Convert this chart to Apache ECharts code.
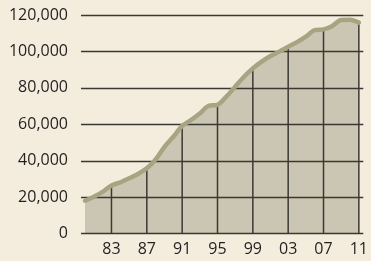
<!DOCTYPE html>
<html lang="en">
<head>
    <meta charset="UTF-8">
    <title>Chart</title>
    <style>
        html, body { margin: 0; padding: 0; background: #f4ecdd; }
    </style>
</head>
<body>
<script src="https://cdn.jsdelivr.net/npm/echarts@6/dist/echarts.min.js"></script>

<div id="main" style="width:371px;height:261px;"></div>

<script type="text/javascript">
    var years = [1980, 1981, 1982, 1983, 1984, 1985, 1986, 1987, 1988, 1989,
        1990, 1991, 1992, 1993, 1994, 1995, 1996, 1997, 1998, 1999,
        2000, 2001, 2002, 2003, 2004, 2005, 2006, 2007, 2008, 2009,
        2010, 2011];
    var values = [18100, 20300, 23000, 26500, 28200, 30400, 32800, 35900, 40800, 47700,
        53200, 59100, 62400, 66000, 70200, 70700, 75200, 80700, 86100, 90700,
        94400, 97500, 99900, 102600, 105100, 108100, 111700, 112100, 114000, 117300,
        117400, 115800];
    var tickYears = [1983, 1987, 1991, 1995, 1999, 2003, 2007, 2011];
    var yTicks = [0, 20000, 40000, 60000, 80000, 100000, 120000];

    var lineData = [];
    for (var i = 0; i < years.length; i++) {
        lineData.push([years[i], values[i]]);
    }
    // vertical grid lines only reach up to the curve
    var stemData = [];
    for (var j = 0; j < tickYears.length; j++) {
        stemData.push([tickYears[j], values[years.indexOf(tickYears[j])]]);
    }

    var font = '"Open Sans", sans-serif';

    var option = {
        backgroundColor: '#f4ecdd',
        animation: false,
        grid: {
            left: 81,
            right: 4.3,
            top: 15,
            bottom: 27.3
        },
        xAxis: {
            type: 'value',
            min: 1979.55,
            max: 2011.5,
            axisLine: {show: false},
            axisTick: {show: false},
            splitLine: {show: false},
            axisLabel: {
                customValues: tickYears,
                margin: 8,
                color: '#231f20',
                fontFamily: font,
                fontSize: 16,
                formatter: function (v) {
                    return String(v).slice(2);
                }
            }
        },
        yAxis: {
            type: 'value',
            min: yTicks[0],
            max: yTicks[yTicks.length - 1],
            interval: 20000,
            zlevel: 1,
            axisLine: {show: false},
            axisTick: {show: false},
            splitLine: {
                lineStyle: {color: '#3a3833', width: 1.3}
            },
            axisLabel: {
                margin: 13,
                color: '#231f20',
                fontFamily: font,
                fontSize: 16,
                formatter: function (v) {
                    return v.toLocaleString('en-US');
                }
            }
        },
        series: [{
            name: 'fill',
            type: 'line',
            zlevel: 0,
            smooth: 0.3,
            symbol: 'none',
            lineStyle: {width: 0},
            areaStyle: {color: '#cbc6b3', opacity: 1},
            data: lineData
        }, {
            name: 'stems',
            type: 'bar',
            zlevel: 2,
            barWidth: 1.5,
            itemStyle: {color: '#3a3833'},
            data: stemData
        }, {
            name: 'line',
            type: 'line',
            zlevel: 2,
            z: 4,
            smooth: 0.3,
            symbol: 'none',
            lineStyle: {color: '#a8a482', width: 4.5, cap: 'round', join: 'round'},
            data: lineData
        }]
    };

    var myChart = echarts.init(document.getElementById('main'));
    myChart.setOption(option);
</script>
</body>
</html>
